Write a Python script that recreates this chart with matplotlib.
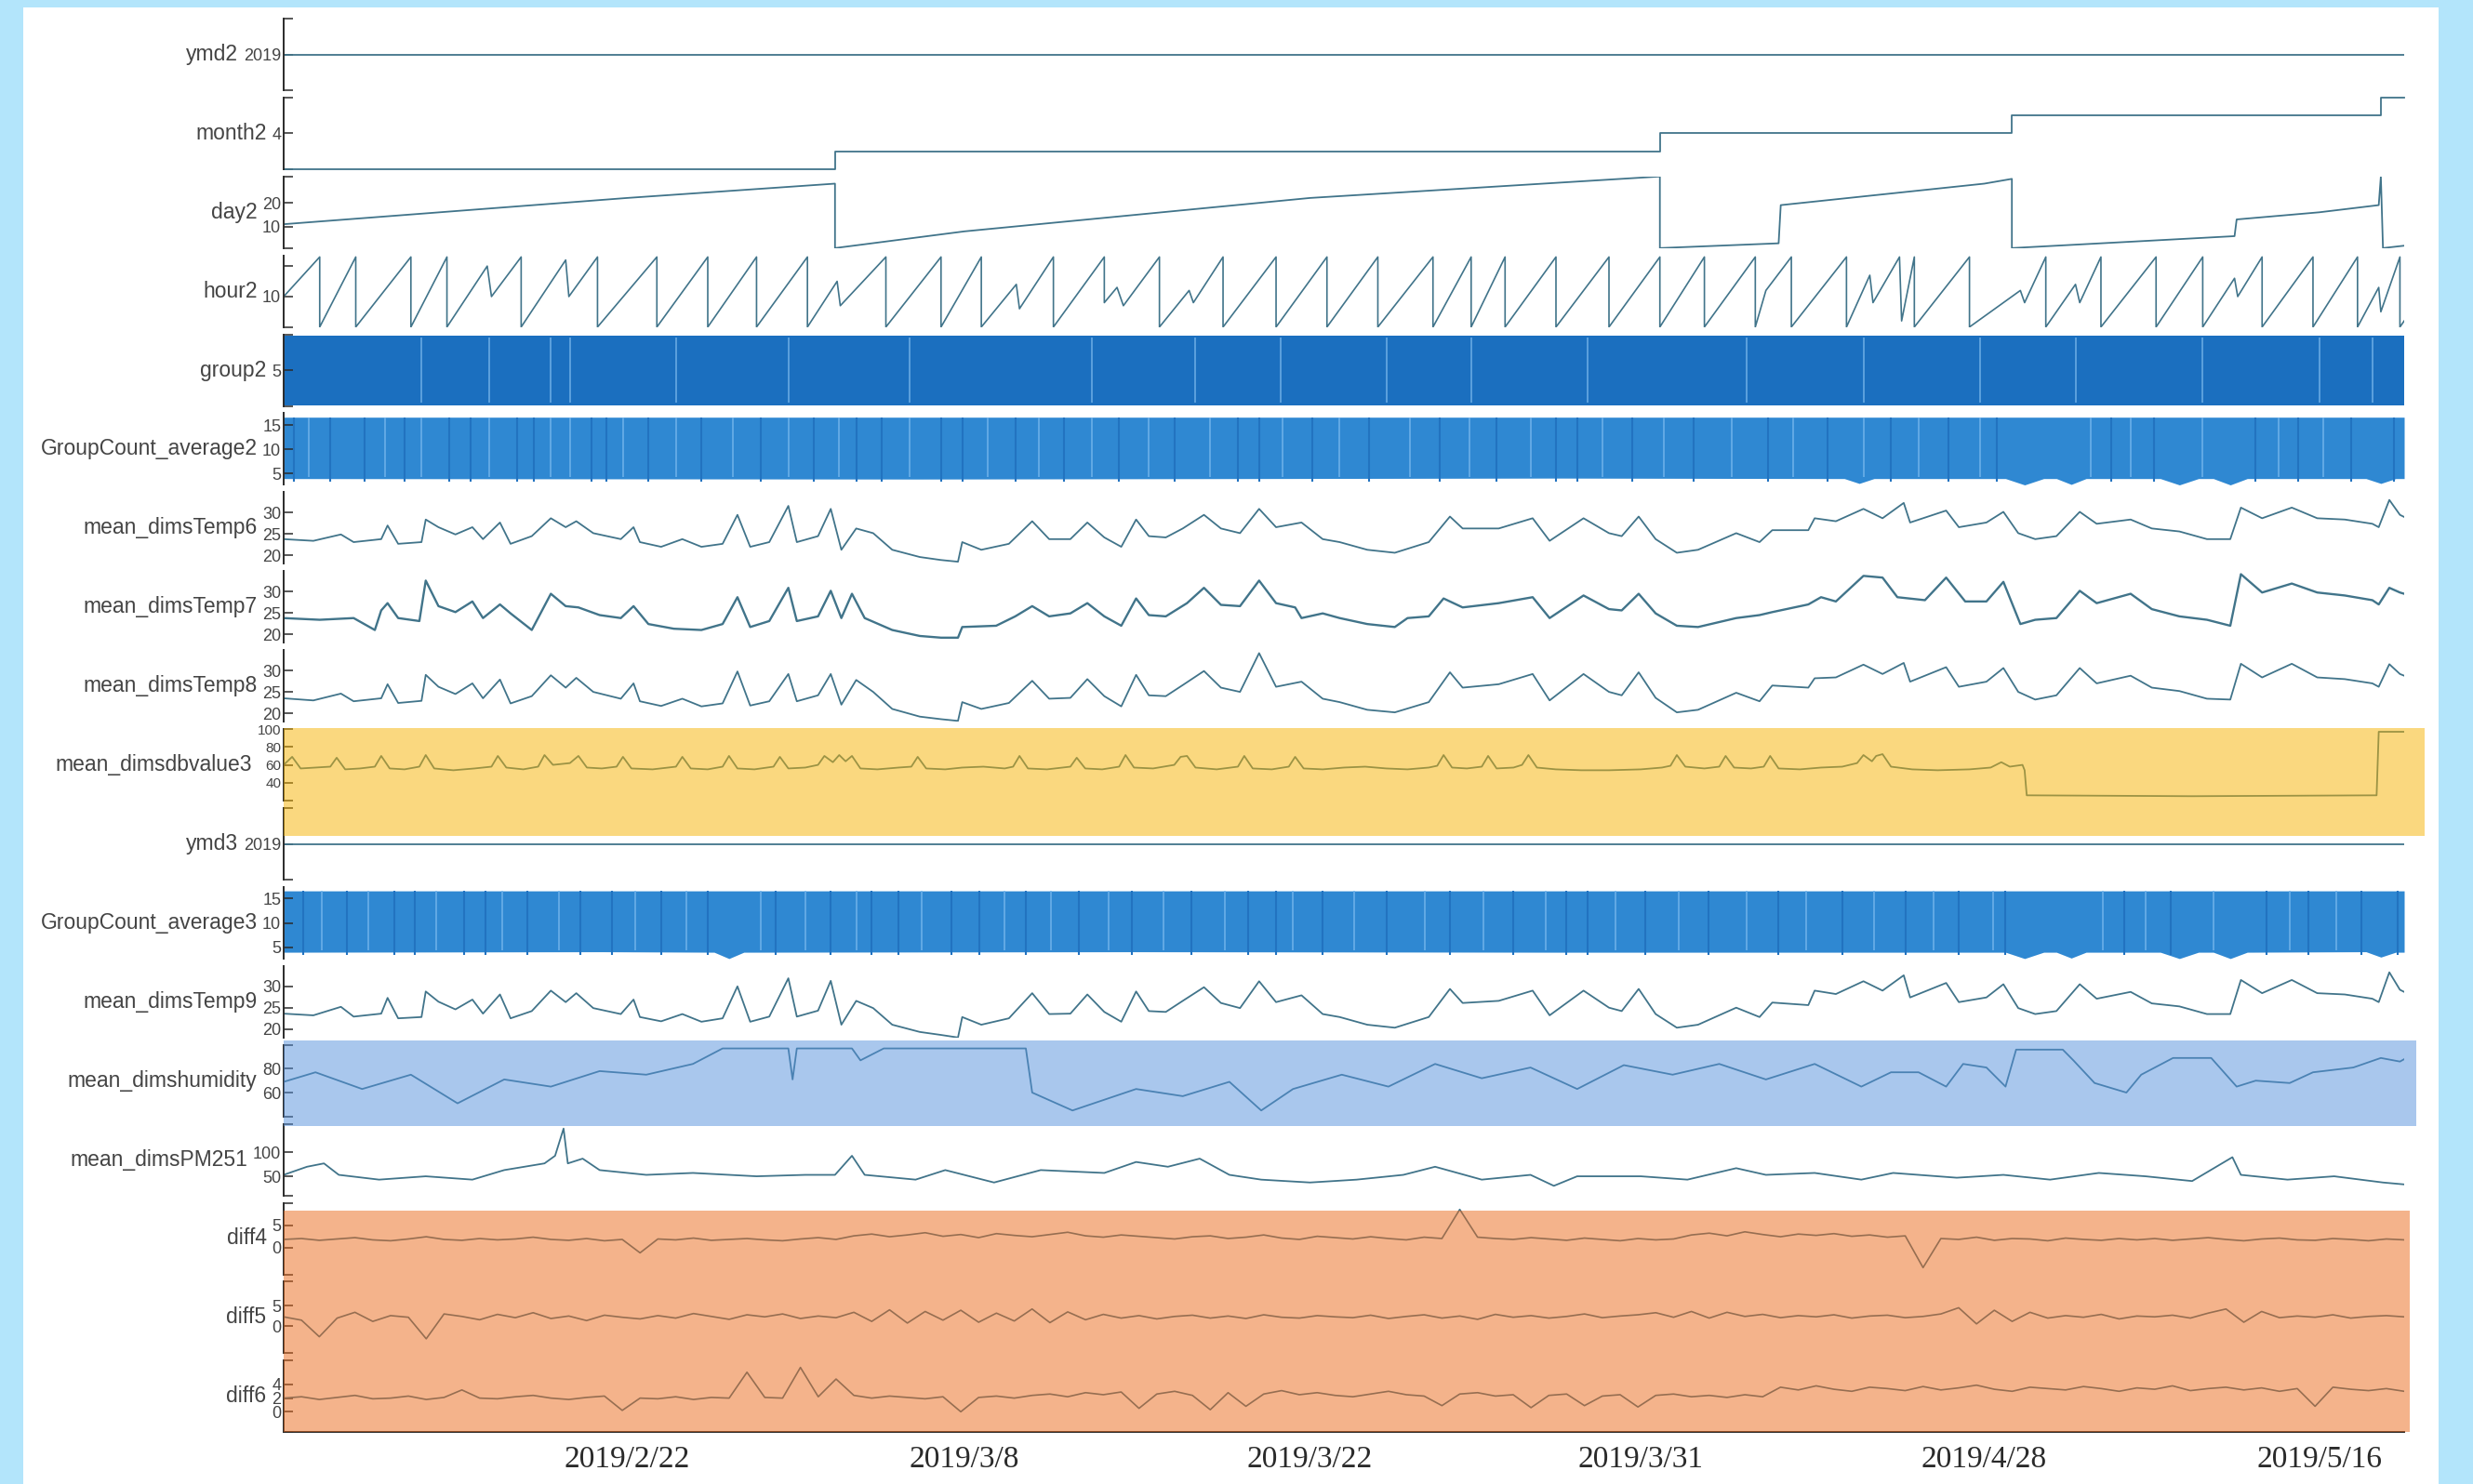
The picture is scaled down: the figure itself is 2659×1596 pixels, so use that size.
import numpy as np
import matplotlib
matplotlib.use("Agg")
import matplotlib.pyplot as plt
from matplotlib.patches import Rectangle

# ---------------- data (x = sample index along the record, 0..1000) ----------------
row_names = ["ymd2", "month2", "day2", "hour2", "group2", "GroupCount_average2",
             "mean_dimsTemp6", "mean_dimsTemp7", "mean_dimsTemp8", "mean_dimsdbvalue3",
             "ymd3", "GroupCount_average3", "mean_dimsTemp9", "mean_dimshumidity",
             "mean_dimsPM251", "diff4", "diff5", "diff6"]

date_pos = [162, 321, 484, 640, 802, 960]
date_labels = ["2019/2/22", "2019/3/8", "2019/3/22", "2019/3/31", "2019/4/28", "2019/5/16"]

ymd_x = [0, 1000]
ymd_y = [2019, 2019]

month_x = [0, 260, 260, 649, 649, 815, 815, 989, 989, 1000]
month_y = [2, 2, 3, 3, 4, 4, 5, 5, 6, 6]

day_x = [0, 162, 260, 260, 321, 484, 649, 649, 705, 706, 802, 815, 815, 920, 921, 960, 988, 989, 990, 1000]
day_y = [11, 22, 28, 1, 8, 22, 31, 1, 3, 19, 28, 30, 1, 6, 13, 16, 19, 31, 1, 2]

hour_x = [0, 17, 17, 34, 34, 60, 60, 77, 77, 96, 98, 112, 112, 133, 134.5, 148, 148, 176, 176, 200,
          200, 223, 223, 247, 247, 261, 262.5, 284, 284, 310, 310, 329, 329, 345.5, 347, 363, 363, 387, 387, 393,
          396, 413, 413, 427, 429, 443, 443, 468, 468, 492, 492, 516, 516, 542, 542, 560, 560, 576, 576, 600,
          600, 625, 625, 649, 649, 670, 670, 694, 694, 699, 711, 711, 737, 737, 748, 749.5, 762, 763, 769, 769,
          795, 795, 819, 821, 831, 831, 845, 847, 857, 857, 883, 883, 905, 905, 920, 921.5, 933, 933, 957, 957,
          978, 978, 988, 989, 998, 998, 1000]
hour_y = [10, 23, 0, 23, 0, 23, 0, 23, 0, 20, 10, 23, 0, 22, 10, 23, 0, 23, 0, 23,
          0, 23, 0, 23, 0, 15, 7, 23, 0, 23, 0, 23, 0, 14, 6, 23, 0, 23, 8, 13,
          7, 23, 0, 12, 8, 23, 0, 23, 0, 23, 0, 23, 0, 23, 0, 23, 0, 23, 0, 23,
          0, 23, 0, 23, 0, 23, 0, 23, 0, 12, 23, 0, 23, 0, 17, 8, 23, 2, 23, 0,
          23, 0, 12, 8, 23, 0, 14, 8, 23, 0, 23, 0, 23, 0, 16, 10, 23, 0, 23, 0,
          23, 0, 13, 5, 23, 0, 2]

# dense bands (group counts): envelope of the band + light / dark streaks
group2_x = [0, 1000]
group2_lo = [1.1, 1.1]
group2_hi = [8.9, 8.9]
group2_streaks = [65, 97, 126, 135, 185, 238, 295, 381, 430, 470, 520, 560, 615, 690, 745, 800, 845, 905, 960, 985]

gc2_x = [0, 300, 600, 736, 743, 750, 812, 821, 830, 836, 843, 850, 885, 894, 903, 910, 918, 926, 982, 989, 996, 1000]
gc2_lo = [4.0, 3.9, 4.1, 4.0, 3.0, 4.0, 4.0, 2.7, 4.0, 4.0, 2.8, 4.0, 4.0, 2.7, 4.0, 4.0, 2.7, 4.0, 4.0, 3.0, 4.0, 4.0]
gc2_top = 16.6
gc2_light = [12, 48, 65, 97, 126, 135, 160, 185, 212, 238, 262, 295, 332, 356, 381, 408, 437, 471, 498, 531,
             559, 588, 622, 651, 683, 712, 745, 771, 800, 852, 871, 905, 941, 962]
gc2_dark = [5, 22, 38, 57, 78, 88, 110, 118, 145, 152, 172, 197, 225, 250, 270, 282, 310, 320, 345, 368,
            394, 420, 450, 460, 485, 512, 545, 572, 600, 610, 636, 665, 700, 728, 758, 785, 808, 862, 882, 930,
            950, 975, 995]

gc3_x = [0, 150, 203, 210, 217, 400, 600, 812, 821, 830, 836, 843, 850, 885, 894, 903, 910, 918, 926, 982, 989, 996, 1000]
gc3_lo = [4.0, 4.1, 4.0, 2.7, 4.0, 4.1, 4.0, 4.0, 2.7, 4.0, 4.0, 2.8, 4.0, 4.0, 2.7, 4.0, 4.0, 2.7, 4.0, 4.1, 3.0, 4.0, 4.0]
gc3_top = 16.6
gc3_light = [18, 40, 72, 103, 130, 166, 190, 225, 246, 270, 301, 340, 362, 389, 415, 444, 476, 505, 538, 566,
             595, 628, 658, 690, 718, 750, 778, 806, 858, 878, 910, 946, 968]
gc3_dark = [9, 30, 52, 62, 85, 95, 115, 140, 155, 178, 200, 232, 258, 277, 290, 315, 328, 350, 375, 400,
            428, 455, 468, 490, 520, 550, 580, 605, 615, 642, 672, 705, 735, 765, 790, 812, 868, 890, 935, 955,
            980, 997]

# temperatures
temp_x = [0, 14, 27, 33, 46, 49, 54, 65, 67, 73,
          81, 89, 94, 102, 107, 117, 126, 133, 138, 146,
          159, 165, 168, 178, 188, 197, 207, 214, 220, 229,
          238, 242, 252, 258, 263, 270, 278, 287, 300, 310,
          318, 320, 329, 342, 353, 361, 371, 379, 387, 395,
          402, 408, 416, 424, 434, 442, 451, 460, 468, 480,
          490, 498, 511, 524, 540, 550, 556, 573, 589, 597,
          613, 625, 631, 639, 647, 657, 667, 685, 696, 702,
          719, 722, 732, 745, 754, 764, 767, 784, 790, 803,
          811, 818, 826, 836, 847, 855, 871, 881, 894, 907,
          918, 923, 933, 947, 959, 972, 985, 988, 993, 998, 1000]
temp6 = [23.8, 23.4, 24.9, 23.1, 23.8, 27.0, 22.7, 23.1, 28.4, 26.6,
         24.9, 26.6, 23.8, 27.7, 22.7, 24.5, 28.7, 26.6, 28.0, 25.2,
         23.8, 26.6, 23.1, 22.0, 23.8, 22.0, 22.7, 29.5, 22.0, 23.1,
         31.6, 23.1, 24.5, 30.9, 21.3, 26.3, 25.2, 21.3, 19.6, 18.9,
         18.5, 23.1, 21.3, 22.7, 28.0, 23.8, 23.8, 27.7, 24.2, 22.0,
         28.4, 24.5, 24.2, 26.3, 29.5, 26.3, 25.2, 30.9, 26.6, 27.7,
         23.8, 23.1, 21.3, 20.6, 23.1, 29.1, 26.3, 26.3, 28.7, 23.4,
         28.7, 25.2, 24.5, 29.1, 23.8, 20.6, 21.3, 25.2, 23.1, 25.9,
         25.9, 28.7, 28.0, 30.9, 28.7, 32.3, 27.7, 30.5, 26.6, 27.7,
         30.2, 25.2, 23.8, 24.5, 30.2, 27.4, 28.4, 26.3, 25.6, 23.8,
         23.8, 31.2, 28.7, 31.2, 28.7, 28.4, 27.4, 26.6, 33.0, 29.5, 29.0]
temp8 = [23.5, 23.0, 24.6, 22.8, 23.5, 26.8, 22.4, 22.9, 29.0, 26.2,
         24.5, 27.0, 23.5, 27.9, 22.3, 24.0, 28.9, 26.0, 28.3, 25.0,
         23.4, 27.0, 22.8, 21.7, 23.4, 21.6, 22.3, 29.8, 21.8, 22.8,
         29.2, 22.8, 24.2, 29.2, 22.0, 27.8, 25.0, 21.0, 19.2, 18.6,
         18.2, 22.6, 21.0, 22.4, 27.6, 23.4, 23.6, 28.0, 24.0, 21.6,
         29.0, 24.2, 24.0, 26.6, 29.9, 26.0, 25.0, 34.1, 26.2, 27.4,
         23.4, 22.6, 20.8, 20.2, 22.6, 29.6, 26.0, 26.8, 29.2, 23.0,
         29.2, 25.0, 24.2, 29.6, 23.6, 20.2, 20.8, 24.8, 22.8, 26.5,
         26.0, 28.2, 28.4, 31.4, 29.2, 31.8, 27.4, 30.8, 26.2, 27.4,
         30.6, 25.0, 23.2, 24.2, 30.6, 27.0, 28.8, 26.0, 25.2, 23.4,
         23.2, 31.6, 28.4, 31.6, 28.4, 28.0, 27.0, 26.2, 31.5, 29.2, 28.8]
temp9 = [23.6, 23.2, 25.2, 22.9, 23.6, 27.3, 22.5, 22.8, 28.8, 26.4,
         24.6, 26.9, 23.6, 28.1, 22.5, 24.2, 29.0, 26.3, 28.4, 24.9,
         23.5, 26.9, 22.8, 21.8, 23.5, 21.7, 22.5, 30.0, 21.7, 22.9,
         31.9, 22.9, 24.3, 31.3, 21.0, 26.6, 24.9, 21.0, 19.3, 18.6,
         18.0, 22.8, 21.0, 22.5, 28.4, 23.5, 23.6, 28.1, 24.0, 21.7,
         28.8, 24.2, 24.0, 26.6, 29.8, 26.1, 24.9, 31.2, 26.3, 27.9,
         23.5, 22.8, 21.0, 20.3, 22.8, 29.4, 26.1, 26.6, 29.0, 23.2,
         29.0, 25.0, 24.2, 29.4, 23.5, 20.3, 21.0, 25.0, 22.8, 26.2,
         25.6, 29.0, 28.2, 31.2, 29.0, 32.6, 27.4, 30.8, 26.3, 27.4,
         30.5, 24.9, 23.5, 24.2, 30.5, 27.1, 28.7, 26.0, 25.3, 23.5,
         23.5, 31.5, 28.4, 31.5, 28.4, 28.1, 27.1, 26.3, 33.3, 29.2, 28.7]

temp7_x = [0, 17, 33, 43, 46, 49, 54, 64, 67, 73,
           81, 89, 94, 102, 107, 117, 126, 133, 139, 149,
           159, 165, 172, 184, 197, 207, 214, 220, 229, 238,
           242, 252, 258, 263, 268, 274, 287, 300, 310, 318,
           320, 336, 345, 353, 361, 371, 379, 387, 395, 402,
           408, 416, 426, 434, 442, 451, 460, 468, 477, 480,
           490, 498, 511, 524, 530, 540, 547, 556, 573, 589,
           597, 613, 625, 631, 639, 647, 657, 667, 685, 696,
           702, 719, 725, 732, 745, 754, 761, 774, 784, 793,
           803, 811, 819, 826, 836, 847, 855, 871, 881, 894,
           907, 918, 923, 933, 947, 959, 972, 985, 988, 993, 998, 1000]
temp7 = [23.8, 23.4, 23.8, 21.0, 25.6, 27.3, 23.8, 23.1, 32.6, 26.6,
         25.2, 27.7, 23.8, 27.0, 24.9, 21.0, 29.5, 26.6, 26.3, 24.5,
         23.8, 26.6, 22.4, 21.3, 21.0, 22.4, 28.7, 21.7, 23.1, 30.9,
         23.1, 24.2, 30.2, 23.8, 29.5, 23.8, 21.0, 19.6, 19.2, 19.2,
         21.7, 22.0, 24.2, 26.6, 24.2, 24.9, 27.3, 24.2, 22.0, 28.4,
         24.5, 24.2, 27.3, 30.9, 26.9, 26.6, 32.6, 27.3, 26.3, 23.8,
         24.9, 23.8, 22.4, 21.7, 23.8, 24.2, 28.4, 26.3, 27.3, 28.7,
         23.8, 29.1, 25.9, 25.6, 29.5, 24.9, 22.0, 21.7, 23.8, 24.5,
         25.2, 27.0, 28.7, 27.7, 33.7, 33.3, 28.7, 28.0, 33.3, 27.7,
         27.7, 32.3, 22.4, 23.4, 23.8, 30.2, 27.3, 29.5, 25.9, 24.2,
         23.4, 22.0, 34.1, 29.8, 31.9, 29.8, 29.1, 28.0, 27.0, 30.9, 29.8, 29.5]

# sound level
db_x = [0, 4, 8, 15, 22, 25, 29, 36, 43, 46,
        50, 57, 64, 67, 71, 80, 90, 98, 101, 105,
        113, 120, 123, 127, 135, 139, 143, 150, 157, 160,
        164, 174, 185, 188, 192, 200, 207, 210, 214, 222,
        231, 234, 238, 246, 252, 255, 259, 262, 265, 268,
        272, 280, 290, 296, 299, 303, 312, 320, 330, 340,
        344, 347, 351, 360, 371, 374, 378, 386, 394, 397,
        401, 410, 420, 423, 426, 430, 440, 450, 453, 457,
        466, 474, 477, 481, 490, 500, 510, 520, 530, 540,
        544, 547, 551, 558, 565, 568, 572, 580, 584, 587,
        591, 600, 612, 625, 640, 650, 654, 657, 661, 670,
        677, 680, 684, 692, 698, 701, 705, 715, 725, 735,
        742, 745, 749, 751, 754, 758, 768, 780, 795, 805,
        810, 814, 820, 821, 822, 900, 987, 988, 1000]
db_y = [60, 69, 56, 57, 58, 68, 55, 56, 58, 70,
        56, 55, 58, 71, 56, 54, 56, 58, 70, 57,
        55, 58, 71, 60, 62, 70, 57, 56, 58, 69,
        56, 55, 58, 69, 56, 55, 58, 70, 56, 55,
        58, 69, 56, 57, 60, 70, 63, 71, 64, 70,
        56, 55, 57, 58, 69, 56, 55, 57, 58, 56,
        58, 70, 56, 55, 58, 68, 56, 55, 58, 71,
        57, 56, 60, 69, 70, 57, 55, 58, 70, 56,
        55, 58, 69, 56, 55, 57, 58, 56, 55, 57,
        59, 71, 57, 56, 58, 70, 56, 57, 60, 71,
        57, 55, 54, 54, 55, 57, 59, 71, 58, 56,
        58, 70, 57, 56, 58, 70, 56, 55, 57, 58,
        62, 71, 64, 70, 72, 58, 55, 54, 55, 57,
        63, 58, 60, 54, 26, 25, 26, 97, 97]

humid_x = [0, 15, 37, 60, 82, 104, 126, 149, 171, 193,
           207, 238, 240, 242, 268, 272, 283, 350, 353, 372,
           387, 402, 424, 446, 461, 476, 499, 521, 543, 565,
           588, 610, 632, 655, 677, 699, 722, 744, 758, 771,
           784, 792, 803, 812, 817, 839, 844, 854, 869, 876,
           891, 909, 921, 930, 946, 957, 976, 989, 998, 1000]
humid_y = [69, 77, 63, 75, 51, 71, 65, 78, 75, 84,
           97, 97, 71, 97, 97, 87, 97, 97, 60, 45,
           54, 63, 57, 69, 45, 63, 75, 65, 84, 72,
           81, 63, 83, 75, 84, 71, 84, 65, 77, 77,
           65, 84, 81, 65, 96, 96, 87, 68, 60, 75,
           89, 89, 65, 70, 68, 77, 81, 89, 86, 88]

pm_x = [0, 11, 19, 26, 45, 67, 89, 104, 123, 128,
        132, 134, 141, 149, 171, 193, 223, 246, 260, 268,
        274, 298, 312, 335, 357, 387, 402, 417, 432, 446,
        461, 484, 506, 528, 543, 565, 588, 599, 610, 640,
        662, 685, 699, 722, 744, 759, 789, 811, 833, 856,
        878, 900, 919, 923, 945, 967, 990, 1000]
pm_y = [53, 70, 77, 53, 43, 50, 43, 63, 77, 93,
        150, 77, 87, 63, 53, 57, 50, 53, 53, 93,
        53, 43, 63, 37, 63, 57, 80, 70, 87, 53,
        43, 37, 43, 53, 70, 43, 53, 30, 50, 50,
        43, 67, 53, 57, 43, 57, 47, 53, 43, 57,
        50, 40, 90, 53, 43, 50, 37, 33]

diff4 = [1.8, 2.0, 1.6, 1.9, 2.2, 1.7, 1.5, 1.9, 2.4, 1.8, 1.6, 2.0, 1.7, 1.9, 2.3, 1.8, 1.6, 2.0, 1.5, 1.8,
         -1.2, 1.9, 1.7, 2.1, 1.6, 1.8, 2.0, 1.7, 1.5, 1.9, 2.2, 1.8,
         2.6, 3.0, 2.4, 2.8, 3.3, 2.5, 2.9, 2.2, 3.1, 2.7, 2.4, 2.9, 3.4, 2.6, 2.3, 2.8, 2.5,
         2.2, 1.9, 2.4, 2.6, 2.0, 2.3, 2.8, 2.1, 1.8, 2.5, 2.2, 1.9, 2.4, 2.0, 1.7, 2.3, 2.0,
         8.5, 2.3, 2.0, 1.8, 2.2, 1.9, 1.6, 2.1, 1.8, 1.5, 2.0, 1.7, 1.9,
         2.8, 3.2, 2.6, 3.5, 2.9, 2.4, 3.0, 2.7, 3.1, 2.5, 2.8, 2.3, 2.6,
         -4.5, 2.0, 1.8, 2.3, 1.6, 2.0, 1.9, 1.5, 2.1, 1.8, 1.6, 2.0,
         1.7, 2.0, 1.6, 1.9, 2.2, 1.8, 1.5, 1.9, 2.1, 1.7, 1.6, 2.0, 1.8, 1.5, 1.9, 1.7]
diff5 = [2.3, 1.5, -2.5, 2.0, 3.4, 1.2, 2.6, 2.2, -3.0, 3.0, 2.4, 1.6, 2.9, 2.1, 3.3, 1.9, 2.5, 1.4, 2.7, 2.2,
         1.8, 2.6, 2.0, 3.1, 2.4, 1.7, 2.8, 2.3, 3.0, 1.9, 2.5, 2.1, 3.4, 1.2, 4.0, 0.8, 3.6, 1.5, 3.9, 1.0,
         3.2, 1.3, 4.2, 0.9, 3.5, 1.6, 2.9, 2.0, 2.6, 1.8, 2.4, 2.7, 2.0, 2.5, 1.9, 2.8, 2.2, 2.0, 2.6, 2.3,
         2.1, 2.7, 1.9, 2.4, 2.8, 2.0, 2.5, 1.7, 2.9, 2.2, 2.6, 2.0, 2.4, 3.0, 2.1, 2.5, 2.8, 3.3, 2.2, 3.6,
         2.0, 3.4, 2.4, 2.9, 2.1, 2.6, 2.3, 2.8, 2.0, 2.5, 2.7, 2.1, 2.4, 3.0, 4.5, 0.6, 3.9, 1.2, 3.4, 2.0,
         2.6, 2.2, 2.9, 1.8, 2.5, 2.3, 2.7, 2.0, 3.2, 4.2, 1.0, 3.6, 2.1, 2.5, 2.2, 2.8, 2.0, 2.4, 2.6, 2.3]
diff6 = [2.0, 2.2, 1.8, 2.1, 2.4, 1.9, 2.0, 2.3, 1.8, 2.1, 3.2, 2.0, 1.9, 2.2, 2.4, 2.0, 1.8, 2.1, 2.3, 0.2,
         2.0, 1.9, 2.2, 1.8, 2.1, 2.0, 5.8, 2.1, 2.0, 6.5, 2.2, 4.8, 2.4, 2.0, 2.3, 2.1, 1.9, 2.2, 0.0, 2.1,
         2.3, 2.0, 2.4, 2.6, 2.2, 2.8, 2.5, 2.9, 0.5, 2.6, 3.0, 2.4, 0.3, 2.8, 0.8, 2.6, 3.1, 2.5, 2.8, 2.4,
         2.2, 2.6, 3.0, 2.5, 2.3, 0.9, 2.6, 2.8, 2.3, 2.5, 0.6, 2.4, 2.6, 0.9, 2.3, 2.5, 0.7, 2.4, 2.6, 2.2,
         2.4, 2.1, 2.5, 2.2, 3.6, 3.2, 3.8, 3.3, 3.0, 3.6, 3.4, 3.1, 3.7, 3.2, 3.5, 3.9, 3.3, 3.0, 3.6, 3.4,
         3.2, 3.7, 3.4, 3.0, 3.5, 3.3, 3.8, 3.1, 3.4, 3.6, 3.2, 3.5, 3.0, 3.4, 0.8, 3.6, 3.3, 3.1, 3.4, 3.0]

# ---------------- figure ----------------
plt.rcParams["font.family"] = ["Liberation Sans", "DejaVu Sans"]

W, H = 2659, 1596
fig = plt.figure(figsize=(W / 100, H / 100), dpi=100)
fig.patch.set_facecolor("#b3e5fb")
fig.patches.append(Rectangle((25 / W, 0), (2622 - 25) / W, (H - 8) / H, transform=fig.transFigure,
                             facecolor="white", edgecolor="none", zorder=-5))

LINE = "#41748a"
TXT = "#444444"
X0, X1 = 305, 2585
TOP, PITCH, AX_H = 20, 84.9, 77

axes = []
for i, name in enumerate(row_names):
    y_top = TOP + i * PITCH
    ax = fig.add_axes([X0 / W, 1 - (y_top + AX_H) / H, (X1 - X0) / W, AX_H / H])
    ax.set_facecolor("none")
    ax.set_xlim(0, 1000)
    for s in ["top", "right", "bottom"]:
        ax.spines[s].set_visible(False)
    ax.spines["left"].set_color("#2b2b2b")
    ax.spines["left"].set_linewidth(1.4)
    ax.tick_params(axis="y", direction="in", length=7, width=1.1, colors="#2b2b2b",
                   labelsize=13, labelcolor=TXT, pad=2)
    ax.tick_params(axis="x", bottom=False, labelbottom=False)
    ax.set_ylabel(name, rotation=0, ha="right", va="center", fontsize=16.5, color=TXT, labelpad=4)
    axes.append(ax)


def yaxis(ax, lim, ticks, labels):
    ax.set_ylim(*lim)
    ax.set_yticks(ticks)
    ax.set_yticklabels(labels)


# ymd2 / month2 / day2 / hour2
axes[0].plot(ymd_x, ymd_y, color=LINE, lw=1.3)
yaxis(axes[0], (2018, 2020), [2018, 2019, 2020], ["", "2019", ""])
axes[1].plot(month_x, month_y, color=LINE, lw=1.3, clip_on=False)
yaxis(axes[1], (2, 6), [2, 4, 6], ["", "4", ""])
axes[2].plot(day_x, day_y, color=LINE, lw=1.3)
yaxis(axes[2], (1, 31), [1, 10, 20, 31], ["", "10", "20", ""])
axes[3].plot(hour_x, hour_y, color=LINE, lw=1.2)
yaxis(axes[3], (0, 23.5), [0, 10, 20], ["", "10", ""])

# group2 band
ax = axes[4]
ax.fill_between(group2_x, group2_lo, group2_hi, color="#1b6fbf", lw=0)
ax.vlines(group2_streaks, 1.4, 8.6, color="#6eaee6", lw=1.1)
yaxis(ax, (1, 9), [1, 5, 9], ["", "5", ""])

# GroupCount_average2 / 3 bands
for ax, bx, blo, btop, light, dark in [(axes[5], gc2_x, gc2_lo, gc2_top, gc2_light, gc2_dark),
                                       (axes[11], gc3_x, gc3_lo, gc3_top, gc3_light, gc3_dark)]:
    ax.fill_between(bx, blo, btop, color="#2f88d2", lw=0)
    ax.vlines(dark, 3.4, btop, color="#2273c0", lw=1.5)
    ax.vlines(light, 4.4, btop, color="#6fb2ea", lw=1.1)
    yaxis(ax, (2.7, 17.4), [5, 10, 15], ["5", "10", "15"])

# temperatures
temp_rows = [(axes[6], temp_x, temp6, 1.3), (axes[7], temp7_x, temp7, 1.7),
             (axes[8], temp_x, temp8, 1.3), (axes[12], temp_x, temp9, 1.3)]
for ax, tx, ty, lw in temp_rows:
    ax.plot(tx, ty, color=LINE, lw=lw)
    yaxis(ax, (18, 34.8), [20, 25, 30], ["20", "25", "30"])

# dbvalue3
axes[9].plot(db_x, db_y, color=LINE, lw=1.3)
yaxis(axes[9], (20, 100), [20, 40, 60, 80, 100], ["", "40", "60", "80", "100"])
axes[9].tick_params(axis="y", labelsize=11)

# ymd3
axes[10].plot(ymd_x, ymd_y, color=LINE, lw=1.3)
yaxis(axes[10], (2018, 2020), [2018, 2019, 2020], ["", "2019", ""])

# humidity / PM
axes[13].plot(humid_x, humid_y, color=LINE, lw=1.3)
yaxis(axes[13], (40, 100), [40, 60, 80, 100], ["", "60", "80", ""])
axes[14].plot(pm_x, pm_y, color=LINE, lw=1.3)
yaxis(axes[14], (10, 160), [10, 50, 100, 160], ["", "50", "100", ""])

# diffs
for ax, vals, lim, ticks, labels in [(axes[15], diff4, (-6, 10), [-6, 0, 5, 10], ["", "0", "5", ""]),
                                     (axes[16], diff5, (-6.5, 10.8), [-6.5, 0, 5, 10.8], ["", "0", "5", ""]),
                                     (axes[17], diff6, (-3, 7.5), [-3, 0, 2, 4, 7.5], ["", "0", "2", "4", ""])]:
    ax.plot(np.linspace(0, 1000, len(vals)), vals, color=LINE, lw=1.2)
    yaxis(ax, lim, ticks, labels)

# bottom date axis
ax = axes[-1]
ax.spines["bottom"].set_visible(True)
ax.spines["bottom"].set_color("#2b2b2b")
ax.spines["bottom"].set_linewidth(1.4)
ax.set_xticks(date_pos)
ax.set_xticklabels(date_labels, fontfamily="Liberation Serif", fontsize=24, color="#2a2a2a")
ax.tick_params(axis="x", bottom=True, labelbottom=True, length=0, pad=10)

# translucent highlight boxes laid over the plots
for xl, xr, yt, yb, col in [(305, 2607, 783, 899, "#f7b300"),
                            (305, 2598, 1119, 1211, "#5591dd"),
                            (305, 2591, 1302, 1540, "#eb6919")]:
    fig.patches.append(Rectangle((xl / W, 1 - yb / H), (xr - xl) / W, (yb - yt) / H,
                                 transform=fig.transFigure, facecolor=col, alpha=0.5,
                                 edgecolor="none", zorder=3))

fig.savefig("out.png", dpi=100, facecolor=fig.get_facecolor())
